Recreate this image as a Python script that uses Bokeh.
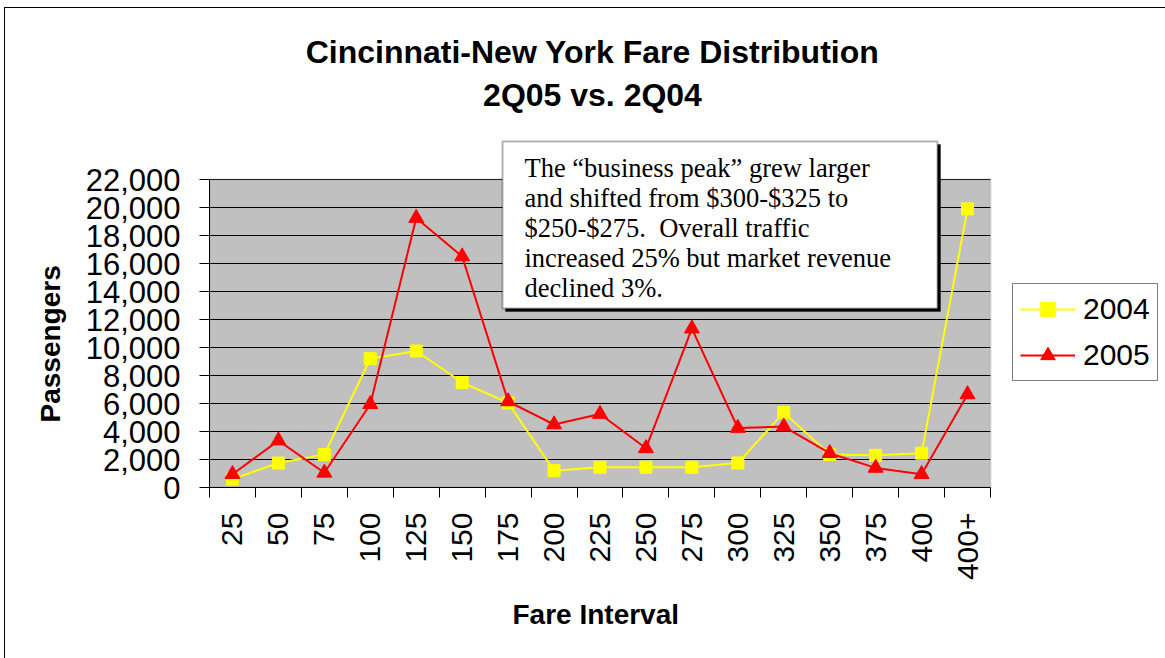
import math
from bokeh.plotting import figure
from bokeh.models import (Range1d, LinearAxis, FixedTicker, NumeralTickFormatter,
                          Label, BoxAnnotation, Legend, LegendItem, Title)
from bokeh.embed import file_html
from bokeh.resources import INLINE

# ---------------- data ----------------
categories = ["25", "50", "75", "100", "125", "150", "175", "200", "225",
              "250", "275", "300", "325", "350", "375", "400", "400+"]
passengers_2004 = [600, 1750, 2350, 9200, 9750, 7500, 6050, 1200, 1450,
                   1450, 1450, 1750, 5350, 2350, 2300, 2450, 19900]
passengers_2005 = [950, 3350, 1050, 5950, 19250, 16500, 6150, 4500, 5250,
                   2800, 11350, 4250, 4350, 2450, 1400, 950, 6650]
series_names = ["2004", "2005"]
title_lines = ["Cincinnati-New York Fare Distribution", "2Q05 vs. 2Q04"]
y_title = "Passengers"
x_title = "Fare Interval"
note_lines = ["The \u201cbusiness peak\u201d grew larger",
              "and shifted from $300-$325 to",
              "$250-$275.\u00a0 Overall traffic",
              "increased 25% but market revenue",
              "declined 3%."]
y_max = 22000
y_step = 2000
y_ticks = list(range(0, y_max + 1, y_step))

# category index positions on a linear x scale
N = len(categories)
x_pos = list(range(N))

# ---------------- layout ----------------
W, H = 1165, 658
FL, FR, FB = 209, 990, 487      # plot-area edges (canvas px)
PLOT_TOP = 179                  # canvas px of the 22,000 line
x_end = N * (W - FL) / (FR - FL) - 0.5
y_top = y_max * FB / (FB - PLOT_TOP)

def sx(px):
    return (px - FL) / (FR - FL) * N - 0.5

def sy(py):
    return (FB - py) / (FB - PLOT_TOP) * y_max

SANS = "Liberation Sans"
SERIF = "Liberation Serif"

p = figure(width=W, height=H,
           x_range=Range1d(-0.5, x_end), y_range=Range1d(0, y_top),
           output_backend="svg", toolbar_location=None,
           x_axis_location=None, y_axis_location="left",
           min_border_left=FL, min_border_right=0,
           min_border_top=0, min_border_bottom=H - FB)
p.title.visible = False

p.background_fill_color = None
p.border_fill_color = None
p.outline_line_color = None
p.styles = {"box-shadow": "inset 4px 7px 0 0 white, inset 5px 8px 0 0 black",
            "background-color": "white"}

# y axis
yticker = FixedTicker(ticks=y_ticks)
ya = p.yaxis[0]
ya.ticker = yticker
ya.bounds = (0, y_max)
ya.formatter = NumeralTickFormatter(format="0,0")
ya.major_label_text_font = SANS
ya.major_label_text_font_size = "31px"
ya.major_label_text_color = "black"
ya.major_tick_out = 10
ya.major_tick_in = 0
ya.minor_tick_line_color = None
ya.major_label_standoff = 19
ya.axis_line_color = "black"

p.add_layout(Title(text=y_title, align="left", offset=65, vertical_align="bottom",
                   standoff=34, text_font=SANS, text_font_style="bold",
                   text_font_size="28px", text_color="black"), "left")

# plot area: gray fill, grid, white cover right of the area, gray outline
grid = p.ygrid[0]
p.center = [r for r in p.center if r is not grid]
p.xgrid.visible = False
grid.ticker = yticker
grid.grid_line_color = "black"
grid.grid_line_width = 1
grid.level = "underlay"

p.add_layout(BoxAnnotation(left=-0.5, right=N - 0.5, bottom=0, top=y_max,
                           fill_color="#C0C0C0", fill_alpha=1, line_color=None,
                           level="underlay"))
p.add_layout(grid, "center")
p.add_layout(BoxAnnotation(left=N - 0.5, bottom=sy(FB + 3), top=sy(PLOT_TOP - 4),
                           fill_color="white", fill_alpha=1, line_color=None,
                           level="underlay"))
p.add_layout(BoxAnnotation(left=-0.5, right=N - 0.5, bottom=0, top=y_max,
                           fill_color=None, line_color="#808080", line_width=2,
                           level="underlay"))

# x axis: boundary ticks + category labels
bounds_axis = LinearAxis(ticker=FixedTicker(ticks=[i - 0.5 for i in range(N + 1)]),
                         bounds=(-0.5, N - 0.5),
                         major_label_overrides={i - 0.5: "" for i in range(N + 1)},
                         major_label_text_font_size="10px",
                         major_label_standoff=0,
                         major_tick_out=10, major_tick_in=0,
                         minor_tick_line_color=None,
                         axis_line_color="black")
p.add_layout(bounds_axis, "below")

label_axis = LinearAxis(ticker=FixedTicker(ticks=x_pos),
                        bounds=(-0.5, N - 0.5),
                        major_label_overrides={i: c for i, c in zip(x_pos, categories)},
                        major_label_orientation=math.pi / 2,
                        major_label_text_font=SANS,
                        major_label_text_font_size="30px",
                        major_label_text_color="black",
                        major_label_standoff=9,
                        major_tick_line_color=None,
                        minor_tick_line_color=None,
                        axis_line_color=None)
p.add_layout(label_axis, "below")

p.add_layout(Title(text=x_title, align="left", offset=303, vertical_align="top",
                   standoff=30, text_font=SANS, text_font_style="bold",
                   text_font_size="28px", text_color="black"), "below")

# series
l04 = p.line(x_pos, passengers_2004, line_color="#FFFF00", line_width=2)
m04 = p.scatter(x_pos, passengers_2004, marker="square", size=12,
                fill_color="#FFFF00", line_color="#FFFF00")
l05 = p.line(x_pos, passengers_2005, line_color="#FF0000", line_width=2)
m05 = p.scatter(x_pos, passengers_2005, marker="triangle", size=15,
                fill_color="#FF0000", line_color="#FF0000")

legend = Legend(items=[LegendItem(label=series_names[0], renderers=[l04, m04]),
                       LegendItem(label=series_names[1], renderers=[l05, m05])],
                location=(1012 - FL, FB - 381),
                orientation="vertical",
                border_line_color="black", border_line_width=1,
                background_fill_color="white", background_fill_alpha=1,
                label_text_font=SANS, label_text_font_size="30px",
                label_text_color="black",
                glyph_width=55, glyph_height=36, label_height=36,
                label_standoff=8, spacing=10, padding=7, margin=0)
p.add_layout(legend, "center")

# chart title (two centred lines)
for i, t in enumerate(title_lines):
    p.add_layout(Label(x=sx(592), y=sy(51 + 43 * i), text=t,
                       text_align="center", text_baseline="alphabetic",
                       text_font=SANS, text_font_style="bold",
                       text_font_size="32px", text_color="black"))

# annotation box with shadow
p.add_layout(BoxAnnotation(left=sx(505), right=sx(940), top=sy(144), bottom=sy(311),
                           fill_color="black", fill_alpha=1, line_color="black",
                           level="annotation"))
p.add_layout(BoxAnnotation(left=sx(502), right=sx(937), top=sy(141), bottom=sy(308),
                           fill_color="white", fill_alpha=1, line_color="black",
                           line_width=2, level="annotation"))
for i, t in enumerate(note_lines):
    p.add_layout(Label(x=sx(524), y=sy(167 + 30 * i),
                       text=t, text_align="left", text_baseline="alphabetic",
                       text_font=SERIF, text_font_size="26.5px",
                       text_color="black"))

open("out.html", "w").write(file_html(p, INLINE))
